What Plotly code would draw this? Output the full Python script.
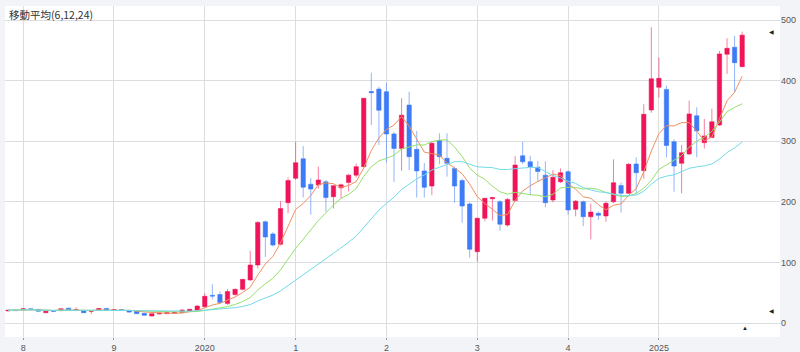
import plotly.graph_objects as go
import pandas as pd

# monthly candles, 2017-11 .. 2025-12
months = pd.period_range("2017-11", "2025-12", freq="M").strftime("%Y-%m").tolist()

opens = [20, 21, 21.5, 23.6, 22.6, 17, 20, 20.3, 24.5, 21.5,
         20, 19.5, 21.5, 24, 21.5, 22, 20.3, 19.3, 16, 11.5,
         14.8, 15.4, 16, 17, 19.3, 21.5, 27, 45.5, 47, 32,
         47, 55.5, 71, 95.7, 167, 147, 130, 198.5, 238.8, 271,
         229, 227.7, 233, 208.4, 223, 232, 244, 258, 382, 386,
         381.7, 312, 288, 359.7, 286.6, 251, 226, 301, 271.8, 255,
         235, 196.4, 117.7, 172.8, 205, 200, 161.7, 202, 276, 266,
         257, 244, 203, 233, 249.7, 187.6, 200, 175.4, 181, 176.6,
         200, 227, 214, 262.4, 251.3, 351.5, 389, 385.5, 299, 263.5,
         279, 342, 297.5, 306, 326.7, 443.5, 455, 423]
highs = [22, 22, 24.5, 24, 23, 20.5, 21, 24, 25, 26,
         21, 20.5, 24.5, 25, 22.5, 22.5, 21, 19.8, 16.5, 15.8,
         16.5, 17.5, 18, 22, 23, 29, 49, 64, 52, 56,
         57, 72, 119, 168, 169, 150, 201, 240, 299, 292,
         239, 258, 236, 228, 230, 246, 263, 371, 413, 390,
         396, 315, 371, 381.7, 317, 264, 300, 313, 313, 258,
         238, 199, 174, 206, 208, 203, 206, 275.6, 299, 276,
         267, 267, 252.5, 255, 252, 203, 202, 197, 184, 201,
         270, 232, 264, 273.4, 361, 488, 438, 392, 303, 294,
         367, 356, 336.6, 353.5, 449, 469.8, 473.6, 480.8]
lows = [19, 20, 21, 21.5, 19, 16.5, 19, 20, 21, 19.5,
        16.5, 15, 21, 20, 21, 20.5, 17.5, 15, 12.5, 11,
        14.5, 15, 15.5, 16.5, 19, 21, 26, 39, 31, 30,
        45, 54, 70, 90, 109, 126, 128, 181, 236, 207,
        179, 222, 183.7, 189, 205.8, 217, 240, 257, 326.7, 293.7,
        265, 233, 251, 252.5, 207, 207, 211, 262, 241.5, 198.5,
        165.5, 108, 101, 168, 169, 152, 159, 200, 262, 211,
        233, 191, 199, 231, 179, 176, 160, 138, 170, 167,
        198, 182, 213, 212, 238, 347, 372, 273.4, 216.7, 214,
        277, 273.4, 288, 305, 325, 411, 381.7, 422]
closes = [21, 20.5, 23.6, 22, 19.3, 19.5, 19.5, 23.6, 21.5, 22,
          17, 20, 24, 21, 22, 21, 18, 15.4, 12.7, 15.4,
          16, 17, 17.6, 21.5, 22.6, 28, 44, 44.5, 34, 52,
          55.5, 72, 95.7, 166, 142, 128.7, 189, 235, 264.5, 224,
          221, 236, 207, 226.6, 228, 244, 258, 370.8, 380, 351,
          312, 288, 343, 274.4, 251, 224, 296.5, 274.4, 263.5, 226,
          193, 121.6, 172.8, 205.8, 207, 163, 204, 260.7, 266, 258,
          250, 198.5, 240.5, 248, 186.5, 201, 175.4, 183, 177.7, 197.5,
          231.5, 214, 261.8, 248, 344.4, 403, 403.7, 293, 259, 281,
          345, 317, 308.6, 332, 444, 453.3, 429.6, 475]

tick_months = ["2018-01", "2019-01", "2020-01", "2021-01", "2022-01",
               "2023-01", "2024-01", "2025-01"]
tick_labels = ["8", "9", "2020", "1", "2", "3", "4", "2025"]
y_ticks = [0, 100, 200, 300, 400, 500]

ma_periods = [6, 12, 24]
ma_colors = ["#f0905e", "#96e06a", "#72dbea"]

close_s = pd.Series(closes)

fig = go.Figure()
for p, c in zip(ma_periods, ma_colors):
    fig.add_trace(go.Scatter(
        x=months, y=close_s.rolling(p, min_periods=1).mean().tolist(),
        mode="lines", line=dict(color=c, width=1), hoverinfo="skip"))

fig.add_trace(go.Candlestick(
    x=months, open=opens, high=highs, low=lows, close=closes,
    increasing=dict(line=dict(color="rgba(240,20,85,0.55)", width=1),
                    fillcolor="#f0145a"),
    decreasing=dict(line=dict(color="rgba(60,120,245,0.55)", width=1),
                    fillcolor="#3d7cf6"),
    whiskerwidth=0))

L, R, T, B = 5, 20, 6, 15
W, H = 800, 352
pw, ph = W - L - R, H - T - B


def px(xp):
    return (xp - L) / pw


def py(yp):
    return (H - B - yp) / ph


fig.update_layout(
    width=W, height=H,
    margin=dict(l=L, r=R, t=T, b=B),
    paper_bgcolor="#f3f4f7", plot_bgcolor="#ffffff",
    showlegend=False, boxgap=0.18,
    font=dict(family="Liberation Sans, Arial, sans-serif", size=9, color="#555"),
    xaxis=dict(type="category", range=[-0.4, 102.0], automargin=False,
               tickvals=tick_months, ticktext=tick_labels,
               showgrid=True, gridcolor="#dcdde1", gridwidth=1,
               ticks="outside", ticklen=2, tickcolor="#999",
               rangeslider=dict(visible=False), fixedrange=True,
               tickfont=dict(size=9, color="#555")),
    yaxis=dict(side="right", range=[-23.1, 523.1], tickvals=y_ticks,
               automargin=False,
               showgrid=True, gridcolor="#dcdde1", gridwidth=1, zeroline=False,
               ticks="", ticklabelstandoff=0,
               tickfont=dict(size=9, color="#555")),
    annotations=[
        dict(text="移動平均(6,12,24)", xref="paper", yref="paper",
             x=px(7), y=py(15), xanchor="left", yanchor="middle", showarrow=False,
             font=dict(family="Noto Sans CJK JP", size=10.5, color="#333")),
        dict(text="◀", xref="paper", yref="paper", x=px(776), y=py(27),
             showarrow=False, font=dict(size=6, color="#222")),
        dict(text="◀", xref="paper", yref="paper", x=px(776), y=py(316),
             showarrow=False, font=dict(size=6, color="#222")),
        dict(text="▲", xref="paper", yref="paper", x=px(750), y=py(333),
             showarrow=False, font=dict(size=6, color="#222")),
    ],
)

fig.write_html("out.html")
